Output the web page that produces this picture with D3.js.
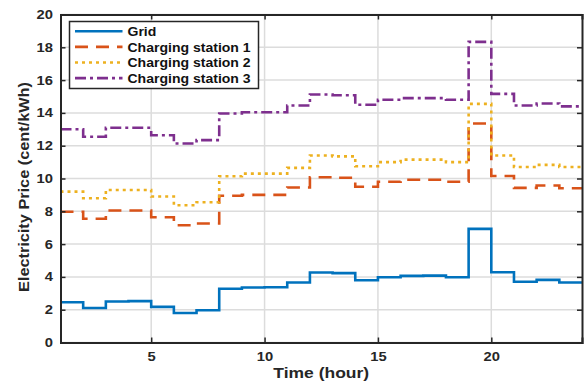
<!DOCTYPE html>
<html><head><meta charset="utf-8">
<script src="https://cdn.jsdelivr.net/npm/d3@7"></script>
<style>body{margin:0;background:#fff;} svg{display:block;font-family:Arial,"Liberation Sans",Helvetica,sans-serif;}</style>
</head><body>
<svg id="chart" width="588" height="382"></svg>
<script>
const hours = d3.range(1, 25);
const grid = [2.45,2.1,2.5,2.52,2.17,1.8,1.97,3.28,3.35,3.37,3.66,4.27,4.23,3.8,3.98,4.06,4.08,3.98,6.93,4.28,3.7,3.82,3.66,3.66];
const cs1  = [7.97,7.55,8.05,8.05,7.64,7.15,7.26,8.95,9.0,9.0,9.45,10.08,10.05,9.5,9.8,9.92,9.92,9.8,13.35,10.15,9.43,9.57,9.41,9.41];
const cs2  = [9.2,8.8,9.3,9.3,8.9,8.37,8.55,10.14,10.3,10.3,10.65,11.4,11.35,10.75,11.0,11.15,11.15,11.0,14.55,11.4,10.7,10.83,10.7,10.7];
const cs3  = [13.0,12.55,13.09,13.09,12.64,12.13,12.34,13.96,14.04,14.04,14.45,15.12,15.08,14.5,14.8,14.9,14.9,14.8,18.33,15.16,14.45,14.57,14.4,14.4];
const seriesNames = ["Grid","Charging station 1","Charging station 2","Charging station 3"];
const colors = ["#0072BD","#D95319","#EDB120","#7E2F8E"];
const dashes = [null,"13,8","3,4","11,4,3,4"];
const xTicks = [5,10,15,20];
const yTicks = [0,2,4,6,8,10,12,14,16,18,20];

const svg = d3.select("#chart");
const m = {l:60.5, r:6, t:14.5, b:39.5};
const W = 588, H = 382;
const x = d3.scaleLinear().domain([1,24]).range([m.l, W - m.r]);
const y = d3.scaleLinear().domain([0,20]).range([H - m.b, m.t]);

// horizontal stretch helper (reference text is slightly wide)
function stretch(sel, sx){
  sel.each(function(){
    const t = d3.select(this);
    const tx = +(t.attr("x")||0);
    t.attr("transform", `translate(${tx},0) scale(${sx},1) translate(${-tx},0)`);
  });
}

// gridlines
const g = svg.append("g");
g.selectAll(".gx").data(xTicks).join("line")
  .attr("x1", d=>x(d)).attr("x2", d=>x(d)).attr("y1", y(0)).attr("y2", y(20))
  .attr("stroke","#dcdcdc").attr("stroke-width",1.5);
g.selectAll(".gy").data(yTicks).join("line")
  .attr("y1", d=>y(d)).attr("y2", d=>y(d)).attr("x1", x(1)).attr("x2", x(24))
  .attr("stroke","#dcdcdc").attr("stroke-width",1.5);

// series
const all = [grid, cs1, cs2, cs3];
const line = d3.line().x((d,i)=>x(hours[i])).y(d=>y(d)).curve(d3.curveStepAfter);
svg.append("clipPath").attr("id","clip").append("rect")
  .attr("x", x(1)).attr("y", y(20)).attr("width", x(24)-x(1)).attr("height", y(0)-y(20));
all.forEach((s,k)=>{
  svg.append("path").datum(s).attr("d", line).attr("fill","none")
    .attr("stroke", colors[k]).attr("stroke-width",2.6)
    .attr("stroke-dasharray", dashes[k]).attr("clip-path","url(#clip)");
});

// axes
const axisColor = "#262626";
const ax = svg.append("g").attr("transform",`translate(0,${y(0)})`)
  .call(d3.axisBottom(x).tickValues(xTicks).tickSize(-5).tickPadding(10).tickFormat(d3.format("d")));
const axT = svg.append("g").attr("transform",`translate(0,${y(20)})`)
  .call(d3.axisTop(x).tickValues(xTicks).tickSize(-5).tickFormat(""));
const ay = svg.append("g").attr("transform",`translate(${x(1)},0)`)
  .call(d3.axisLeft(y).tickValues(yTicks).tickSize(-5).tickPadding(7.5));
const ayR = svg.append("g").attr("transform",`translate(${x(24)},0)`)
  .call(d3.axisRight(y).tickValues(yTicks).tickSize(-5).tickFormat(""));
[ax,axT,ay,ayR].forEach(a=>{
  a.select(".domain").attr("stroke",axisColor).attr("stroke-width",2);
  a.selectAll(".tick line").attr("stroke",axisColor).attr("stroke-width",1.5);
  a.selectAll(".tick text").attr("fill","#262626").attr("font-size",12.5).attr("font-weight","bold")
   .attr("font-family","Arial, 'Liberation Sans', sans-serif");
});
stretch(ax.selectAll(".tick text"), 1.18);
stretch(ay.selectAll(".tick text"), 1.18);

// axis titles
const xt = svg.append("text").attr("x",(x(1)+x(24))/2).attr("y",378.5).attr("text-anchor","middle")
  .attr("font-size",14).attr("font-weight","bold").attr("fill","#262626").text("Time (hour)");
stretch(xt, 1.25);
svg.append("text").attr("transform",`translate(28.5,187) rotate(-90)`).attr("text-anchor","middle")
  .attr("font-size",14).attr("font-weight","bold").attr("fill","#262626")
  .attr("textLength",210).attr("lengthAdjust","spacingAndGlyphs")
  .text("Electricity Price (cent/kWh)");

// legend
const lg = svg.append("g");
lg.append("rect").attr("x",69.5).attr("y",21.5).attr("width",189).attr("height",67)
  .attr("fill","#fff").attr("stroke","#262626").attr("stroke-width",1.5);
seriesNames.forEach((n,k)=>{
  const yy = 31.3 + k*15.6;
  lg.append("line").attr("x1",75).attr("x2",122.5).attr("y1",yy).attr("y2",yy)
    .attr("stroke",colors[k]).attr("stroke-width",2.6).attr("stroke-dasharray",dashes[k]);
  const t = lg.append("text").attr("x",127.5).attr("y",yy+4.8).attr("font-size",13).attr("font-weight","bold")
    .attr("fill","#111").text(n);
  stretch(t, 1.08);
});
</script>
</body></html>
